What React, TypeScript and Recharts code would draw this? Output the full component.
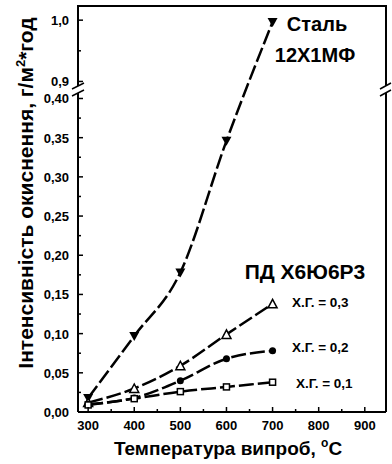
import React from 'react'
import { LineChart, Line, XAxis, YAxis, ReferenceLine } from 'recharts'

// temperatures, °C
const TEMPS = [300, 400, 500, 600, 700]
// oxidation rate, g/m2*h
const STEEL = [0.018, 0.097, 0.178, 0.346, 0.997]
const HG03 = [0.012, 0.03, 0.059, 0.099, 0.138]
const HG02 = [0.01, 0.018, 0.04, 0.068, 0.078]
const HG01 = [0.009, 0.017, 0.026, 0.032, 0.038]

const X_TICKS = [300, 400, 500, 600, 700, 800, 900]
const Y_TICKS_LOW = [0, 0.05, 0.1, 0.15, 0.2, 0.25, 0.3, 0.35, 0.4]
const Y_TICKS_HIGH = [0.9, 1.0]

const X_DOMAIN = [278, 946]
const Y_TOP = 0.518

// broken axis: lower part 0..LOW_MAX, upper part starts at HIGH_MIN
const LOW_MAX = 0.41
const HIGH_MIN = 0.885
const HIGH_K = 610 / 780
const toDisplay = (v: number) => (v <= LOW_MAX ? v : LOW_MAX + (v - HIGH_MIN) * HIGH_K)

const rows = TEMPS.map((t, i) => ({
  t,
  steel: STEEL[i],
  hg03: HG03[i],
  hg02: HG02[i],
  hg01: HG01[i]
}))

const xTicks: number[] = []
X_TICKS.forEach((t, i) => {
  xTicks.push(t)
  if (i < X_TICKS.length - 1) xTicks.push(t + 50)
})

const yTickDefs: { d: number; label: string | null }[] = []
Y_TICKS_LOW.forEach((v, i) => {
  yTickDefs.push({ d: toDisplay(v), label: v.toFixed(2).replace('.', ',') })
  if (i < Y_TICKS_LOW.length - 1) yTickDefs.push({ d: toDisplay(v + 0.025), label: null })
})
Y_TICKS_HIGH.forEach((v, i) => {
  yTickDefs.push({ d: toDisplay(v), label: v.toFixed(1).replace('.', ',') })
  if (i < Y_TICKS_HIGH.length - 1) yTickDefs.push({ d: toDisplay(v + 0.05), label: null })
})

const FONT = "'Liberation Sans', Arial, sans-serif"

const XTick = (props: any) => {
  const { x, y, payload } = props
  const major = payload.value % 100 === 0
  return (
    <g>
      <line x1={x} x2={x} y1={y} y2={y - (major ? 5 : 3)} stroke="#000" strokeWidth={1.5} />
      {major && (
        <text x={x} y={y + 18} textAnchor="middle" fontFamily={FONT} fontWeight="bold" fontSize={13} fill="#000">
          {payload.value}
        </text>
      )}
    </g>
  )
}

const YTick = (props: any) => {
  const { x, y, payload } = props
  const def = yTickDefs.reduce((a, b) => (Math.abs(b.d - payload.value) < Math.abs(a.d - payload.value) ? b : a))
  const major = def.label !== null
  return (
    <g>
      <line x1={x} x2={x + (major ? 5 : 3)} y1={y} y2={y} stroke="#000" strokeWidth={1.5} />
      {major && (
        <text x={x - 9} y={y + 5} textAnchor="end" fontFamily={FONT} fontWeight="bold" fontSize={13} fill="#000">
          {def.label}
        </text>
      )}
    </g>
  )
}

const DownTri = (p: any) => {
  const { cx, cy } = p
  if (cx == null) return null
  return <polygon points={`${cx - 5},${cy - 4} ${cx + 5},${cy - 4} ${cx},${cy + 5}`} fill="#000" />
}
const UpTri = (p: any) => {
  const { cx, cy } = p
  if (cx == null) return null
  return <polygon points={`${cx - 4.5},${cy + 4} ${cx + 4.5},${cy + 4} ${cx},${cy - 4.5}`} fill="#fff" stroke="#000" strokeWidth={1.5} />
}
const Dot = (p: any) => {
  const { cx, cy } = p
  if (cx == null) return null
  return <circle cx={cx} cy={cy} r={3.5} fill="#000" />
}
const Square = (p: any) => {
  const { cx, cy } = p
  if (cx == null) return null
  return <rect x={cx - 3} y={cy - 3} width={6} height={6} fill="#fff" stroke="#000" strokeWidth={1.5} />
}

const lineProps = {
  type: 'monotone' as const,
  stroke: '#000',
  strokeWidth: 2.5,
  strokeDasharray: '15 4',
  isAnimationActive: false
}

const axisLine = { stroke: '#000', strokeWidth: 2 }

export default function App() {
  return (
    <div style={{ position: 'absolute', left: 0, top: 0, width: 392, height: 464, background: '#fff' }}>
      <LineChart width={392} height={464} data={rows} margin={{ top: 6, right: 6, bottom: 0, left: 0 }}>
        <XAxis
          dataKey="t"
          type="number"
          domain={X_DOMAIN}
          ticks={xTicks}
          interval={0}
          height={52}
          tickSize={0}
          tickMargin={0}
          tickLine={false}
          axisLine={axisLine}
          tick={<XTick />}
        />
        <YAxis
          type="number"
          domain={[0, Y_TOP]}
          ticks={yTickDefs.map((d) => d.d)}
          interval={0}
          width={78}
          tickSize={0}
          tickMargin={0}
          tickLine={false}
          axisLine={axisLine}
          tick={<YTick />}
        />
        <ReferenceLine x={X_DOMAIN[1]} stroke="#000" strokeWidth={2} ifOverflow="visible" />
        <Line {...lineProps} dataKey={(r: any) => toDisplay(r.steel)} dot={<DownTri />} />
        <Line {...lineProps} dataKey={(r: any) => toDisplay(r.hg03)} dot={<UpTri />} />
        <Line {...lineProps} dataKey={(r: any) => toDisplay(r.hg02)} dot={<Dot />} />
        <Line {...lineProps} dataKey={(r: any) => toDisplay(r.hg01)} dot={<Square />} />
      </LineChart>
      <svg width={392} height={464} style={{ position: 'absolute', left: 0, top: 0, pointerEvents: 'none' }}>
        {/* top frame */}
        <line x1={77} y1={6} x2={387} y2={6} stroke="#000" strokeWidth={2} />
        {/* axis breaks */}
        <rect x={74} y={86} width={8} height={7} fill="#fff" />
        <line x1={72} y1={89} x2={84} y2={83} stroke="#000" strokeWidth={1.5} />
        <line x1={72} y1={96} x2={84} y2={90} stroke="#000" strokeWidth={1.5} />
        <rect x={382} y={86} width={8} height={7} fill="#fff" />
        <line x1={380} y1={89} x2={391} y2={83} stroke="#000" strokeWidth={1.5} />
        <line x1={380} y1={96} x2={391} y2={90} stroke="#000" strokeWidth={1.5} />

        <text x={317} y={31} textAnchor="middle" fontFamily={FONT} fontWeight="bold" fontSize={20}>Сталь</text>
        <text x={315} y={62} textAnchor="middle" fontFamily={FONT} fontWeight="bold" fontSize={20}>12Х1МФ</text>
        <text x={305} y={279} textAnchor="middle" fontFamily={FONT} fontWeight="bold" fontSize={21}>ПД Х6Ю6Р3</text>
        <text x={292} y={307} fontFamily={FONT} fontWeight="bold" fontSize={13.5}>Х.Г. = 0,3</text>
        <text x={292} y={352} fontFamily={FONT} fontWeight="bold" fontSize={13.5}>Х.Г. = 0,2</text>
        <text x={296} y={388} fontFamily={FONT} fontWeight="bold" fontSize={13.5}>Х.Г. = 0,1</text>

        <text x={228} y={455} textAnchor="middle" fontFamily={FONT} fontWeight="bold" fontSize={19}>
          Температура випроб, <tspan dy={-8} fontSize={12}>o</tspan><tspan dy={8}>C</tspan>
        </text>
        <text transform="translate(33,193) rotate(-90)" textAnchor="middle" fontFamily={FONT} fontWeight="bold" fontSize={21}>
          Інтенсивність окиснення, г/м<tspan dy={-8} fontSize={13}>2</tspan><tspan dy={8}>*год</tspan>
        </text>
      </svg>
    </div>
  )
}
